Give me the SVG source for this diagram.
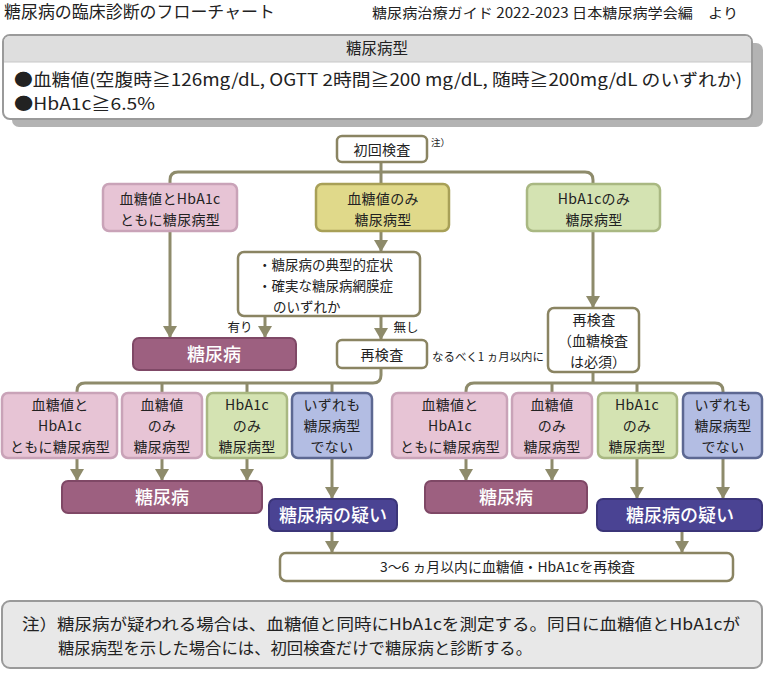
<svg xmlns="http://www.w3.org/2000/svg" width="764" height="675" viewBox="0 0 764 675">
<style>
text{font-family:'Noto Sans CJK JP','Noto Sans',sans-serif;fill:#222;}
.c{stroke:#8e8b6b;stroke-width:3;fill:none;}
.w{fill:#fff;stroke:#8a8462;stroke-width:2.5;}
.pk{fill:#e7c4d5;stroke:#c9a3b8;stroke-width:2.5;}
.yl{fill:#e0d98a;stroke:#a8a057;stroke-width:2.5;}
.gr{fill:#d4e3b2;stroke:#a9b882;stroke-width:2.5;}
.bl{fill:#b3bde3;stroke:#5d6892;stroke-width:2.5;}
.dm{fill:#9d6080;stroke:#7f4866;stroke-width:2;}
.dq{fill:#4a4393;stroke:#3b3578;stroke-width:2;}
.t14{font-size:14px;text-anchor:middle;letter-spacing:0.3px;}
.t13{font-size:13.5px;}
.wt{font-size:18px;fill:#fff;text-anchor:middle;font-weight:500;}
</style>
<defs>
<marker id="ah" markerUnits="userSpaceOnUse" markerWidth="14" markerHeight="12" viewBox="0 0 14 12" refX="7" refY="12" orient="0">
<path d="M0,0 H14 L7,12 Z" fill="#8e8b6b"/>
</marker>
</defs>

<rect width="764" height="675" fill="#fff"/>

<g id="title">
<text x="4" y="18" font-size="16.5" textLength="271" lengthAdjust="spacingAndGlyphs">糖尿病の臨床診断のフローチャート</text>
<text x="372" y="18" font-size="14" textLength="366" lengthAdjust="spacingAndGlyphs">糖尿病治療ガイド 2022-2023 日本糖尿病学会編　より</text>
</g>

<g id="criteria">
<rect x="12" y="43" width="751" height="84" rx="7" fill="#b3b3b3"/>
<rect x="3" y="35" width="749" height="84" rx="7" fill="#fff" stroke="#9a9a9a" stroke-width="2"/>
<path d="M4,62 V42 Q4,36 10,36 H745 Q751,36 751,42 V62 Z" fill="#dedede"/>
<line x1="4" y1="62" x2="751" y2="62" stroke="#c8c8c8" stroke-width="1"/>
<text x="377" y="54" font-size="15.5" text-anchor="middle">糖尿病型</text>
<text x="14" y="86" font-size="17" textLength="728" lengthAdjust="spacingAndGlyphs">●血糖値(空腹時≧126mg/dL, OGTT 2時間≧200 mg/dL, 随時≧200mg/dL のいずれか)</text>
<text x="14" y="110" font-size="17" textLength="141" lengthAdjust="spacingAndGlyphs">●HbA1c≧6.5%</text>
</g>

<g id="connectors">
<path class="c" d="M381,162 V184"/>
<path class="c" d="M170,184 V180 Q170,172 178,172 H585 Q593,172 593,180 V184"/>
<path class="c" d="M170,231 V338" marker-end="url(#ah)"/>
<path class="c" d="M381,231 V252" marker-end="url(#ah)"/>
<path class="c" d="M265,316 V338" marker-end="url(#ah)"/>
<path class="c" d="M381,316 V340" marker-end="url(#ah)"/>
<path class="c" d="M593,231 V308" marker-end="url(#ah)"/>
<path class="c" d="M381,368 V375 Q381,383 373,383 H85 Q77,383 77,391 V393"/>
<path class="c" d="M162,383 V393 M247,383 V393 M332,383 V393"/>
<path class="c" d="M593,372 V383"/>
<path class="c" d="M466,393 V391 Q466,383 474,383 H715 Q723,383 723,391 V393"/>
<path class="c" d="M552,383 V393 M637,383 V393"/>
<path class="c" d="M77,458 V481" marker-end="url(#ah)"/>
<path class="c" d="M162,458 V481" marker-end="url(#ah)"/>
<path class="c" d="M247,458 V481" marker-end="url(#ah)"/>
<path class="c" d="M332,458 V499" marker-end="url(#ah)"/>
<path class="c" d="M466,458 V481" marker-end="url(#ah)"/>
<path class="c" d="M552,458 V481" marker-end="url(#ah)"/>
<path class="c" d="M637,458 V499" marker-end="url(#ah)"/>
<path class="c" d="M723,458 V499" marker-end="url(#ah)"/>
<path class="c" d="M332,531 V553" marker-end="url(#ah)"/>
<path class="c" d="M682,531 V553" marker-end="url(#ah)"/>
<text x="240" y="332" font-size="12.5" text-anchor="middle">有り</text>
<text x="406" y="332" font-size="12.5" text-anchor="middle">無し</text>
<text x="432" y="361" font-size="11.5" textLength="112" lengthAdjust="spacingAndGlyphs">なるべく1 ヵ月以内に</text>
</g>

<g id="n-initial">
<rect class="w" x="337" y="136" width="90" height="26" rx="5"/>
<text class="t14" x="382" y="155" font-size="15">初回検査</text>
<text x="431" y="146" font-size="9.5">注）</text>
</g>

<g id="n-both">
<rect class="pk" x="103" y="184" width="134" height="47" rx="6"/>
<text class="t14" x="170" y="204">血糖値とHbA1c</text>
<text class="t14" x="170" y="225">ともに糖尿病型</text>
</g>

<g id="n-glu">
<rect class="yl" x="316" y="184" width="133" height="47" rx="6"/>
<text class="t14" x="383" y="204">血糖値のみ</text>
<text class="t14" x="383" y="225">糖尿病型</text>
</g>

<g id="n-hba">
<rect class="gr" x="527" y="184" width="133" height="47" rx="6"/>
<text class="t14" x="594" y="204">HbA1cのみ</text>
<text class="t14" x="594" y="225">糖尿病型</text>
</g>

<g id="n-symptom">
<rect class="w" x="238" y="252" width="182" height="64" rx="6"/>
<text class="t13" x="258" y="270">・糖尿病の典型的症状</text>
<text class="t13" x="258" y="291">・確実な糖尿病網膜症</text>
<text class="t13" x="273" y="312">のいずれか</text>
</g>

<g id="n-dm1">
<rect class="dm" x="133" y="338" width="163" height="32" rx="6"/>
<text class="wt" x="214" y="361">糖尿病</text>
</g>

<g id="n-retest1">
<rect class="w" x="337" y="340" width="90" height="28" rx="5"/>
<text class="t14" x="382" y="360" font-size="15">再検査</text>
</g>

<g id="n-retest2">
<rect class="w" x="548" y="308" width="91" height="64" rx="6"/>
<text class="t14" x="594" y="325">再検査</text>
<text x="558" y="346" font-size="14">（血糖検査</text>
<text x="570" y="367" font-size="14">は必須）</text>
</g>

<g id="l-both">
<rect class="pk" x="2" y="393" width="115" height="65" rx="6"/>
<text class="t14" x="60" y="410">血糖値と</text>
<text class="t14" x="60" y="431">HbA1c</text>
<text class="t14" x="60" y="452">ともに糖尿病型</text>
</g>
<g id="l-glu">
<rect class="pk" x="122" y="393" width="80" height="65" rx="6"/>
<text class="t14" x="162" y="410">血糖値</text>
<text class="t14" x="162" y="431">のみ</text>
<text class="t14" x="162" y="452">糖尿病型</text>
</g>
<g id="l-hba">
<rect class="gr" x="207" y="393" width="80" height="65" rx="6"/>
<text class="t14" x="247" y="410">HbA1c</text>
<text class="t14" x="247" y="431">のみ</text>
<text class="t14" x="247" y="452">糖尿病型</text>
</g>
<g id="l-none">
<rect class="bl" x="292" y="393" width="80" height="65" rx="6"/>
<text class="t14" x="332" y="410">いずれも</text>
<text class="t14" x="332" y="431">糖尿病型</text>
<text class="t14" x="332" y="452">でない</text>
</g>

<g id="r-both">
<rect class="pk" x="392" y="393" width="115" height="65" rx="6"/>
<text class="t14" x="450" y="410">血糖値と</text>
<text class="t14" x="450" y="431">HbA1c</text>
<text class="t14" x="450" y="452">ともに糖尿病型</text>
</g>
<g id="r-glu">
<rect class="pk" x="512" y="393" width="80" height="65" rx="6"/>
<text class="t14" x="552" y="410">血糖値</text>
<text class="t14" x="552" y="431">のみ</text>
<text class="t14" x="552" y="452">糖尿病型</text>
</g>
<g id="r-hba">
<rect class="gr" x="598" y="393" width="79" height="65" rx="6"/>
<text class="t14" x="637" y="410">HbA1c</text>
<text class="t14" x="637" y="431">のみ</text>
<text class="t14" x="637" y="452">糖尿病型</text>
</g>
<g id="r-none">
<rect class="bl" x="683" y="393" width="79" height="65" rx="6"/>
<text class="t14" x="723" y="410">いずれも</text>
<text class="t14" x="723" y="431">糖尿病型</text>
<text class="t14" x="723" y="452">でない</text>
</g>

<g id="n-dm2">
<rect class="dm" x="62" y="481" width="200" height="32" rx="6"/>
<text class="wt" x="162" y="504">糖尿病</text>
</g>
<g id="n-sus1">
<rect class="dq" x="269" y="499" width="128" height="32" rx="6"/>
<text class="wt" x="333" y="522">糖尿病の疑い</text>
</g>
<g id="n-dm3">
<rect class="dm" x="425" y="481" width="162" height="32" rx="6"/>
<text class="wt" x="506" y="504">糖尿病</text>
</g>
<g id="n-sus2">
<rect class="dq" x="597" y="499" width="165" height="32" rx="6"/>
<text class="wt" x="680" y="522">糖尿病の疑い</text>
</g>

<g id="n-recheck">
<rect class="w" x="280" y="553" width="453" height="28" rx="6"/>
<text x="380" y="572" font-size="13.5" textLength="255" lengthAdjust="spacingAndGlyphs">3〜6 ヵ月以内に血糖値・HbA1cを再検査</text>
</g>

<g id="note">
<rect x="2" y="601" width="760" height="67" rx="8" fill="#e8e8e8" stroke="#9a9a9a" stroke-width="2"/>
<text x="22" y="630" font-size="16" textLength="718" lengthAdjust="spacingAndGlyphs">注）糖尿病が疑われる場合は、血糖値と同時にHbA1cを測定する。同日に血糖値とHbA1cが</text>
<text x="58" y="654" font-size="16" textLength="474" lengthAdjust="spacingAndGlyphs">糖尿病型を示した場合には、初回検査だけで糖尿病と診断する。</text>
</g>
</svg>
